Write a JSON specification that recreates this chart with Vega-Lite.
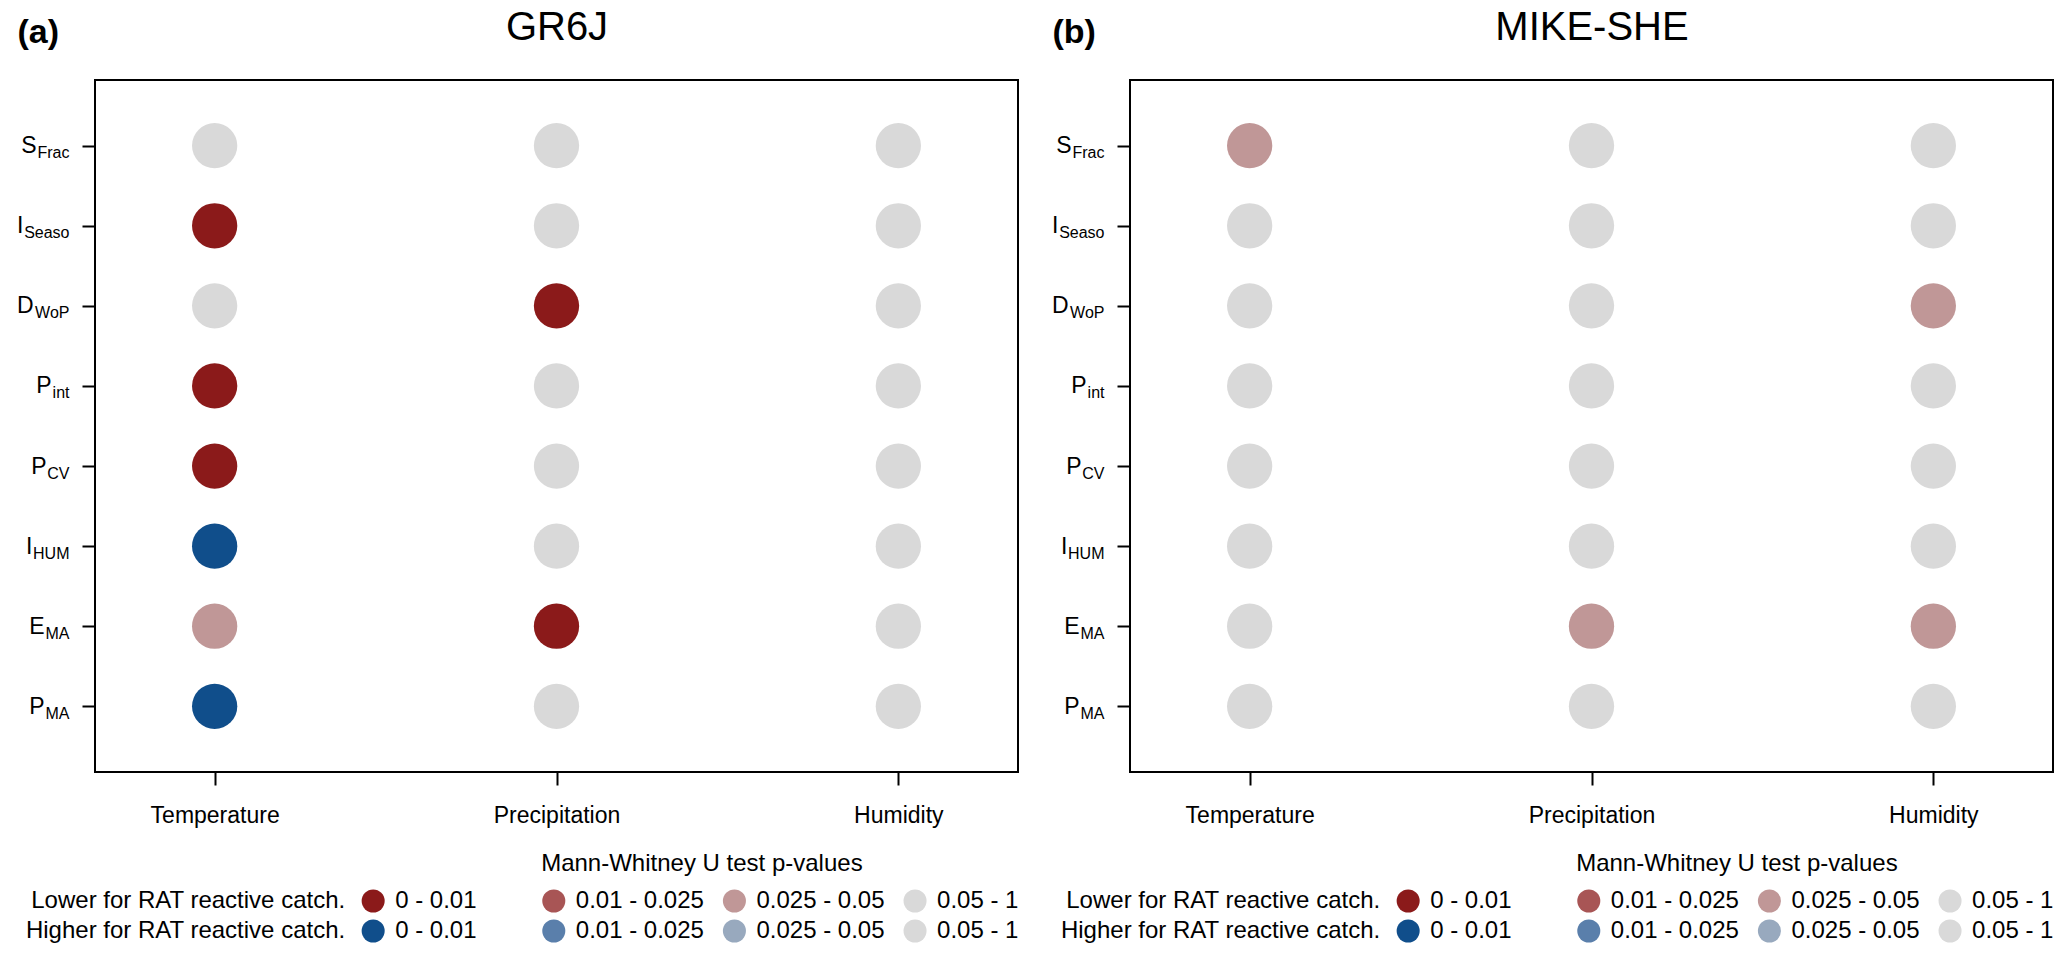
{
  "$schema": "https://vega.github.io/schema/vega-lite/v6.json",
  "background": "white",
  "padding": {"left": 15, "top": 6, "right": 0, "bottom": 0},
  "datasets": {
    "gr6j": [
      {"var": "Temperature", "row": "S_Frac", "cls": "NS"},
      {"var": "Precipitation", "row": "S_Frac", "cls": "NS"},
      {"var": "Humidity", "row": "S_Frac", "cls": "NS"},
      {"var": "Temperature", "row": "I_Seaso", "cls": "L1"},
      {"var": "Precipitation", "row": "I_Seaso", "cls": "NS"},
      {"var": "Humidity", "row": "I_Seaso", "cls": "NS"},
      {"var": "Temperature", "row": "D_WoP", "cls": "NS"},
      {"var": "Precipitation", "row": "D_WoP", "cls": "L1"},
      {"var": "Humidity", "row": "D_WoP", "cls": "NS"},
      {"var": "Temperature", "row": "P_int", "cls": "L1"},
      {"var": "Precipitation", "row": "P_int", "cls": "NS"},
      {"var": "Humidity", "row": "P_int", "cls": "NS"},
      {"var": "Temperature", "row": "P_CV", "cls": "L1"},
      {"var": "Precipitation", "row": "P_CV", "cls": "NS"},
      {"var": "Humidity", "row": "P_CV", "cls": "NS"},
      {"var": "Temperature", "row": "I_HUM", "cls": "H1"},
      {"var": "Precipitation", "row": "I_HUM", "cls": "NS"},
      {"var": "Humidity", "row": "I_HUM", "cls": "NS"},
      {"var": "Temperature", "row": "E_MA", "cls": "L3"},
      {"var": "Precipitation", "row": "E_MA", "cls": "L1"},
      {"var": "Humidity", "row": "E_MA", "cls": "NS"},
      {"var": "Temperature", "row": "P_MA", "cls": "H1"},
      {"var": "Precipitation", "row": "P_MA", "cls": "NS"},
      {"var": "Humidity", "row": "P_MA", "cls": "NS"}
    ],
    "mikeshe": [
      {"var": "Temperature", "row": "S_Frac", "cls": "L3"},
      {"var": "Precipitation", "row": "S_Frac", "cls": "NS"},
      {"var": "Humidity", "row": "S_Frac", "cls": "NS"},
      {"var": "Temperature", "row": "I_Seaso", "cls": "NS"},
      {"var": "Precipitation", "row": "I_Seaso", "cls": "NS"},
      {"var": "Humidity", "row": "I_Seaso", "cls": "NS"},
      {"var": "Temperature", "row": "D_WoP", "cls": "NS"},
      {"var": "Precipitation", "row": "D_WoP", "cls": "NS"},
      {"var": "Humidity", "row": "D_WoP", "cls": "L3"},
      {"var": "Temperature", "row": "P_int", "cls": "NS"},
      {"var": "Precipitation", "row": "P_int", "cls": "NS"},
      {"var": "Humidity", "row": "P_int", "cls": "NS"},
      {"var": "Temperature", "row": "P_CV", "cls": "NS"},
      {"var": "Precipitation", "row": "P_CV", "cls": "NS"},
      {"var": "Humidity", "row": "P_CV", "cls": "NS"},
      {"var": "Temperature", "row": "I_HUM", "cls": "NS"},
      {"var": "Precipitation", "row": "I_HUM", "cls": "NS"},
      {"var": "Humidity", "row": "I_HUM", "cls": "NS"},
      {"var": "Temperature", "row": "E_MA", "cls": "NS"},
      {"var": "Precipitation", "row": "E_MA", "cls": "L3"},
      {"var": "Humidity", "row": "E_MA", "cls": "L3"},
      {"var": "Temperature", "row": "P_MA", "cls": "NS"},
      {"var": "Precipitation", "row": "P_MA", "cls": "NS"},
      {"var": "Humidity", "row": "P_MA", "cls": "NS"}
    ],
    "legend": [
      {"row": 1, "rowlabel": "Lower for RAT reactive catch.", "col": 1, "label": "0 - 0.01", "cls": "L1"},
      {"row": 1, "col": 2, "label": "0.01 - 0.025", "cls": "L2"},
      {"row": 1, "col": 3, "label": "0.025 - 0.05", "cls": "L3"},
      {"row": 1, "col": 4, "label": "0.05 - 1", "cls": "NS"},
      {"row": 2, "rowlabel": "Higher for RAT reactive catch.", "col": 1, "label": "0 - 0.01", "cls": "H1"},
      {"row": 2, "col": 2, "label": "0.01 - 0.025", "cls": "H2"},
      {"row": 2, "col": 3, "label": "0.025 - 0.05", "cls": "H3"},
      {"row": 2, "col": 4, "label": "0.05 - 1", "cls": "NS"}
    ]
  },
  "columns": 2,
  "concat": [
    {
      "width": 923,
      "height": 692,
      "data": {"name": "gr6j"},
      "layer": [
        {
          "mark": {"type": "point", "filled": true, "size": 2050, "opacity": 1, "shape": "circle"},
          "encoding": {
            "x": {"field": "var", "type": "nominal", "sort": ["Temperature", "Precipitation", "Humidity"], "scale": {"type": "point", "padding": 0.35},
              "axis": {"orient": "bottom", "title": null, "domain": false, "grid": false, "ticks": true, "tickSize": 13, "tickWidth": 2, "tickColor": "black", "labelFontSize": 23, "labelPadding": 19, "labelAngle": 0, "labelColor": "black"}},
            "y": {"field": "row", "type": "nominal", "sort": ["S_Frac", "I_Seaso", "D_WoP", "P_int", "P_CV", "I_HUM", "E_MA", "P_MA"], "scale": {"type": "point", "padding": 0.82},
              "axis": {"orient": "left", "title": "(a)", "titleAngle": 0, "titleX": -78, "titleY": -38, "titleAlign": "left", "titleBaseline": "alphabetic", "titleFontSize": 34, "titleFontWeight": "bold", "titleColor": "black",
                "domain": false, "grid": false, "ticks": true, "tickSize": 13, "tickWidth": 2, "tickColor": "black",
                "labelExpr": "split(datum.label, '_')[0]", "labelFontSize": 23, "labelColor": "black", "labelBaseline": "middle", "labelAlign": "right",
                "labelPadding": {"condition": [
                  {"test": "datum.value === 'S_Frac'", "value": 46},
                  {"test": "datum.value === 'I_Seaso'", "value": 59},
                  {"test": "datum.value === 'D_WoP'", "value": 49},
                  {"test": "datum.value === 'P_int'", "value": 31},
                  {"test": "datum.value === 'P_CV'", "value": 36},
                  {"test": "datum.value === 'I_HUM'", "value": 50}
                ], "value": 38}}},
            "color": {"field": "cls", "type": "nominal", "scale": {"domain": ["L1", "L2", "L3", "H1", "H2", "H3", "NS"], "range": ["#8B1A1A", "#A85555", "#C09797", "#104E8B", "#5A7FAB", "#98A9BE", "#D9D9D9"]}, "legend": null}
          }
        },
        {
          "mark": {"type": "point", "opacity": 0},
          "encoding": {
            "x": {"field": "var", "type": "nominal", "sort": ["Temperature", "Precipitation", "Humidity"], "scale": {"type": "point", "padding": 0.35},
              "axis": {"orient": "top", "labels": false, "ticks": false, "domain": false, "grid": false, "title": "GR6J", "titleFontSize": 40, "titleFontWeight": "normal", "titleY": -41, "titleBaseline": "alphabetic", "titleColor": "black"}},
            "y": {"field": "row", "type": "nominal", "sort": ["S_Frac", "I_Seaso", "D_WoP", "P_int", "P_CV", "I_HUM", "E_MA", "P_MA"], "scale": {"type": "point", "padding": 0.82},
              "axis": {"orient": "left", "title": null, "domain": false, "grid": false, "ticks": true, "tickSize": 13, "tickOpacity": 0,
                "labelExpr": "split(datum.label, '_')[1]", "labelFontSize": 16, "labelColor": "black", "labelPadding": 13, "labelOffset": 7, "labelBaseline": "middle", "labelAlign": "right"}}
          }
        }
      ],
      "resolve": {"axis": {"x": "independent", "y": "independent"}}
    },
    {
      "width": 923,
      "height": 692,
      "data": {"name": "mikeshe"},
      "layer": [
        {
          "mark": {"type": "point", "filled": true, "size": 2050, "opacity": 1, "shape": "circle"},
          "encoding": {
            "x": {"field": "var", "type": "nominal", "sort": ["Temperature", "Precipitation", "Humidity"], "scale": {"type": "point", "padding": 0.35},
              "axis": {"orient": "bottom", "title": null, "domain": false, "grid": false, "ticks": true, "tickSize": 13, "tickWidth": 2, "tickColor": "black", "labelFontSize": 23, "labelPadding": 19, "labelAngle": 0, "labelColor": "black"}},
            "y": {"field": "row", "type": "nominal", "sort": ["S_Frac", "I_Seaso", "D_WoP", "P_int", "P_CV", "I_HUM", "E_MA", "P_MA"], "scale": {"type": "point", "padding": 0.82},
              "axis": {"orient": "left", "title": "(b)", "titleAngle": 0, "titleX": -78, "titleY": -38, "titleAlign": "left", "titleBaseline": "alphabetic", "titleFontSize": 34, "titleFontWeight": "bold", "titleColor": "black",
                "domain": false, "grid": false, "ticks": true, "tickSize": 13, "tickWidth": 2, "tickColor": "black",
                "labelExpr": "split(datum.label, '_')[0]", "labelFontSize": 23, "labelColor": "black", "labelBaseline": "middle", "labelAlign": "right",
                "labelPadding": {"condition": [
                  {"test": "datum.value === 'S_Frac'", "value": 46},
                  {"test": "datum.value === 'I_Seaso'", "value": 59},
                  {"test": "datum.value === 'D_WoP'", "value": 49},
                  {"test": "datum.value === 'P_int'", "value": 31},
                  {"test": "datum.value === 'P_CV'", "value": 36},
                  {"test": "datum.value === 'I_HUM'", "value": 50}
                ], "value": 38}}},
            "color": {"field": "cls", "type": "nominal", "scale": {"domain": ["L1", "L2", "L3", "H1", "H2", "H3", "NS"], "range": ["#8B1A1A", "#A85555", "#C09797", "#104E8B", "#5A7FAB", "#98A9BE", "#D9D9D9"]}, "legend": null}
          }
        },
        {
          "mark": {"type": "point", "opacity": 0},
          "encoding": {
            "x": {"field": "var", "type": "nominal", "sort": ["Temperature", "Precipitation", "Humidity"], "scale": {"type": "point", "padding": 0.35},
              "axis": {"orient": "top", "labels": false, "ticks": false, "domain": false, "grid": false, "title": "MIKE-SHE", "titleFontSize": 40, "titleFontWeight": "normal", "titleY": -41, "titleBaseline": "alphabetic", "titleColor": "black"}},
            "y": {"field": "row", "type": "nominal", "sort": ["S_Frac", "I_Seaso", "D_WoP", "P_int", "P_CV", "I_HUM", "E_MA", "P_MA"], "scale": {"type": "point", "padding": 0.82},
              "axis": {"orient": "left", "title": null, "domain": false, "grid": false, "ticks": true, "tickSize": 13, "tickOpacity": 0,
                "labelExpr": "split(datum.label, '_')[1]", "labelFontSize": 16, "labelColor": "black", "labelPadding": 13, "labelOffset": 7, "labelBaseline": "middle", "labelAlign": "right"}}
          }
        }
      ],
      "resolve": {"axis": {"x": "independent", "y": "independent"}}
    },
    {
      "width": 923,
      "height": 90,
      "view": {"stroke": null},
      "data": {"name": "legend"},
      "encoding": {
        "x": {"field": "col", "type": "quantitative", "scale": {"domain": [-0.54, 4.57], "nice": false, "zero": false}, "axis": null},
        "y": {"field": "row", "type": "quantitative", "scale": {"domain": [-1, 2], "nice": false, "zero": false, "reverse": true}, "axis": null}
      },
      "layer": [
        {
          "transform": [{"filter": "datum.col === 1"}],
          "mark": {"type": "text", "align": "right", "baseline": "middle", "dx": -28, "fontSize": 24, "color": "black"},
          "encoding": {"text": {"field": "rowlabel"}}
        },
        {
          "mark": {"type": "point", "filled": true, "size": 530, "opacity": 1, "shape": "circle"},
          "encoding": {
            "color": {"field": "cls", "type": "nominal", "scale": {"domain": ["L1", "L2", "L3", "H1", "H2", "H3", "NS"], "range": ["#8B1A1A", "#A85555", "#C09797", "#104E8B", "#5A7FAB", "#98A9BE", "#D9D9D9"]}, "legend": null}
          }
        },
        {
          "mark": {"type": "text", "align": "left", "baseline": "middle", "dx": 22, "fontSize": 24, "color": "black"},
          "encoding": {"text": {"field": "label"}}
        },
        {
          "transform": [{"filter": "datum.col === 1 && datum.row === 1"}],
          "mark": {"type": "text", "align": "center", "baseline": "middle", "fontSize": 24, "color": "black"},
          "encoding": {"x": {"datum": 2.82}, "y": {"datum": -0.25}, "text": {"value": "Mann-Whitney U test p-values"}}
        }
      ]
    },
    {
      "width": 923,
      "height": 90,
      "view": {"stroke": null},
      "data": {"name": "legend"},
      "encoding": {
        "x": {"field": "col", "type": "quantitative", "scale": {"domain": [-0.54, 4.57], "nice": false, "zero": false}, "axis": null},
        "y": {"field": "row", "type": "quantitative", "scale": {"domain": [-1, 2], "nice": false, "zero": false, "reverse": true}, "axis": null}
      },
      "layer": [
        {
          "transform": [{"filter": "datum.col === 1"}],
          "mark": {"type": "text", "align": "right", "baseline": "middle", "dx": -28, "fontSize": 24, "color": "black"},
          "encoding": {"text": {"field": "rowlabel"}}
        },
        {
          "mark": {"type": "point", "filled": true, "size": 530, "opacity": 1, "shape": "circle"},
          "encoding": {
            "color": {"field": "cls", "type": "nominal", "scale": {"domain": ["L1", "L2", "L3", "H1", "H2", "H3", "NS"], "range": ["#8B1A1A", "#A85555", "#C09797", "#104E8B", "#5A7FAB", "#98A9BE", "#D9D9D9"]}, "legend": null}
          }
        },
        {
          "mark": {"type": "text", "align": "left", "baseline": "middle", "dx": 22, "fontSize": 24, "color": "black"},
          "encoding": {"text": {"field": "label"}}
        },
        {
          "transform": [{"filter": "datum.col === 1 && datum.row === 1"}],
          "mark": {"type": "text", "align": "center", "baseline": "middle", "fontSize": 24, "color": "black"},
          "encoding": {"x": {"datum": 2.82}, "y": {"datum": -0.25}, "text": {"value": "Mann-Whitney U test p-values"}}
        }
      ]
    }
  ],
  "spacing": {"row": 69, "column": 112},
  "bounds": "flush",
  "config": {
    "font": "Liberation Sans",
    "view": {"stroke": "black", "strokeWidth": 2},
    "axis": {"labelColor": "black", "titleColor": "black", "labelFont": "Liberation Sans", "titleFont": "Liberation Sans"},
    "text": {"font": "Liberation Sans"}
  }
}
